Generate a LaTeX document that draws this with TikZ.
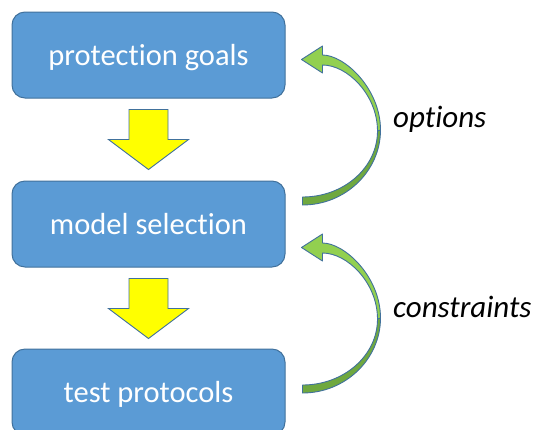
\documentclass[tikz,border=0pt]{standalone}
\usepackage{fontspec}
\setmainfont{Carlito}[Ligatures=NoCommon]
\usetikzlibrary{calc}
\definecolor{boxfill}{HTML}{5B9BD5}
\definecolor{boxline}{HTML}{41719C}
\definecolor{lightgreen}{HTML}{92D050}
\definecolor{darkgreen}{HTML}{6FA83F}
\definecolor{arrowyellow}{HTML}{FFFF00}
\tikzset{
  box/.style={draw=boxline, line width=1pt, fill=boxfill, rounded corners=13pt,
    minimum width=273pt, minimum height=86pt, text=white, inner sep=0pt,
    font=\fontsize{30.5}{36}\selectfont, text height=27pt, text depth=6pt},
  lbl/.style={font=\fontsize{31}{37}\selectfont\itshape, anchor=base west, inner sep=0pt},
  yarrow/.style={draw=boxline, line width=0.9pt, fill=arrowyellow},
  garrowlight/.style={draw=boxline, line width=0.9pt, fill=lightgreen, line join=round},
  garrowdark/.style={draw=boxline, line width=0.9pt, fill=darkgreen, line join=round}
}
\newcommand{\yellowdown}[1]{%
  \begin{scope}[shift={(#1)}]
    \draw[yarrow] (-19.5,11) -- (19.5,11) -- (19.5,41) -- (40,41) -- (0,71) -- (-40,41) -- (-19.5,41) -- cycle;
  \end{scope}}
\newcommand{\greencurve}[1]{%
  \begin{scope}[shift={(#1)}]
    \draw[garrowdark] (0,75) .. controls (43,75) and (78,41) .. (78,0) -- (75,1)
      .. controls (75,37.5) and (41.4,67) .. (0,67) -- cycle;
    \draw[garrowlight] (78,0) .. controls (78,-41.4) and (42,-75) .. (20,-75) -- (20,-84) -- (-1,-70.5)
      -- (20,-57) -- (20,-65) .. controls (45,-65) and (75,-35) .. (75,1) -- cycle;
  \end{scope}}
\begin{document}
\begin{tikzpicture}[x=1pt,y=-1pt]
  \useasboundingbox (0,0) rectangle (534,429);
  \clip (0,0) rectangle (534,429);
  \node[box] (goals) at (148.5,55) {protection goals};
  \node[box] (model) at (148.5,224) {model selection};
  \node[box] (test)  at (148.5,392) {test protocols};
  \yellowdown{goals.south}
  \yellowdown{model.south}
  \greencurve{$(goals.east)+(17,75)$}
  \greencurve{$(model.east)+(17,94)$}
  \node[lbl] (opt) at (393,127) {options};
  \node[lbl] (con) at (393,317) {constraints};
\end{tikzpicture}
\end{document}
